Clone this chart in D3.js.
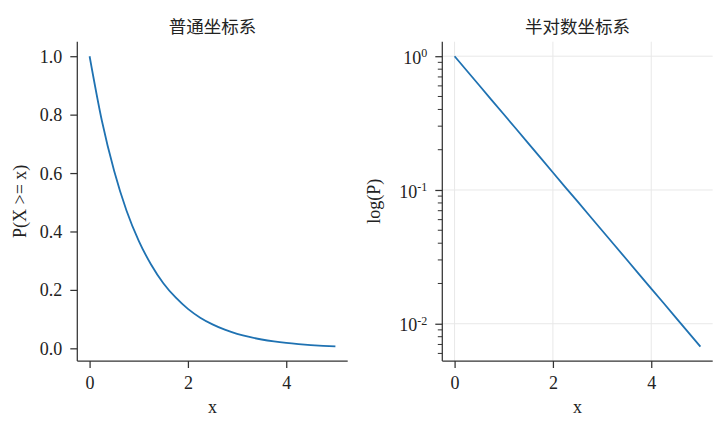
<!DOCTYPE html>
<html>
<head>
<meta charset="utf-8">
<script src="https://cdn.jsdelivr.net/npm/d3@7"></script>
<style>
  html, body { margin: 0; padding: 0; background: #fff; }
  svg { display: block; }
  .tick text { font-family: "Liberation Serif", "Times New Roman", serif; font-size: 18px; fill: #222; }
</style>
</head>
<body>
<svg id="chart" width="720" height="425"></svg>
<script>
// ---- data ----
const xValues = [0, 0.25, 0.5, 0.75, 1, 1.25, 1.5, 1.75, 2, 2.25, 2.5, 2.75, 3, 3.25, 3.5, 3.75, 4, 4.25, 4.5, 4.75, 5];
const pValues = [1.000, 0.779, 0.607, 0.472, 0.368, 0.287, 0.223, 0.174, 0.135, 0.105, 0.0821, 0.0639, 0.0498, 0.0388, 0.0302, 0.0235, 0.0183, 0.0143, 0.0111, 0.00865, 0.00674];
const xTicks = [0, 2, 4];
const linearYTicks = [0.0, 0.2, 0.4, 0.6, 0.8, 1.0];
const logYTicks = [1, 0.1, 0.01];
const logYExponents = ["0", "-1", "-2"];
const logMinorTicks = [0.9, 0.8, 0.7, 0.6, 0.5, 0.4, 0.3, 0.2, 0.09, 0.08, 0.07, 0.06, 0.05, 0.04, 0.03, 0.02, 0.009, 0.008, 0.007, 0.006];
const titles = ["普通坐标系", "半对数坐标系"];
const yLabels = ["P(X >= x)", "log(P)"];
const xLabel = "x";

(function () {
const data = xValues.map((x, i) => ({ x, p: pValues[i] }));

const svg = d3.select("#chart");
const serif = '"Liberation Serif", "Times New Roman", serif';
const cjk = '"Noto Sans CJK SC", "Noto Sans", sans-serif';
const spineColor = "#333";
const lineColor = "#1f72b2";

const panels = [
  { left: 77.3, right: 347.7, type: "linear" },
  { left: 442.3, right: 712.7, type: "log" }
];
const axTop = 41.7, axBottom = 361;

panels.forEach((pn, idx) => {
  const x = d3.scaleLinear().domain([-0.25, 5.25]).range([pn.left, pn.right]);
  let y;
  if (pn.type === "linear") {
    y = d3.scaleLinear().domain([-0.0434, 1.0497]).range([axBottom, axTop]);
  } else {
    y = d3.scaleLog().domain([Math.pow(10, -2.2785), Math.pow(10, 0.1085)]).range([axBottom, axTop]);
  }
  const g = svg.append("g");

  // grid for log panel
  if (pn.type === "log") {
    g.append("g").selectAll("line").data(xTicks).join("line")
      .attr("x1", d => x(d)).attr("x2", d => x(d))
      .attr("y1", axTop).attr("y2", axBottom)
      .attr("stroke", "#e8e8e8").attr("stroke-width", 1);
    g.append("g").selectAll("line").data(logYTicks).join("line")
      .attr("x1", pn.left).attr("x2", pn.right)
      .attr("y1", d => y(d)).attr("y2", d => y(d))
      .attr("stroke", "#e8e8e8").attr("stroke-width", 1);
  }

  // x axis
  const xAxis = g.append("g").attr("transform", `translate(0,${axBottom})`)
    .call(d3.axisBottom(x).tickValues(xTicks).tickFormat(d3.format("d")).tickSize(7).tickPadding(5));
  xAxis.select(".domain").remove();
  xAxis.selectAll(".tick line").attr("stroke", spineColor).attr("stroke-width", 1.25);
  xAxis.selectAll(".tick text").attr("dy", null).attr("y", 28);

  // y axis
  if (pn.type === "linear") {
    const yAxis = g.append("g").attr("transform", `translate(${pn.left},0)`)
      .call(d3.axisLeft(y).tickValues(linearYTicks).tickFormat(d3.format(".1f")).tickSize(7).tickPadding(8));
    yAxis.select(".domain").remove();
    yAxis.selectAll(".tick line").attr("stroke", spineColor).attr("stroke-width", 1.25);
    yAxis.selectAll(".tick text").attr("dy", "0.33em");
  } else {
    const yAxis = g.append("g").attr("transform", `translate(${pn.left},0)`)
      .call(d3.axisLeft(y).tickValues(logYTicks).tickFormat(() => "").tickSize(7).tickPadding(8));
    yAxis.select(".domain").remove();
    yAxis.selectAll(".tick line").attr("stroke", spineColor).attr("stroke-width", 1.25);
    yAxis.selectAll(".tick text").each(function(d, i) {
      const t = d3.select(this).attr("dy", "0.4em").text(null);
      t.append("tspan").text("10");
      t.append("tspan").attr("font-size", "12px").attr("dy", "-0.55em").text(logYExponents[i]);
    });
    // minor ticks
    g.append("g").selectAll("line").data(logMinorTicks.filter(v => y(v) >= axTop && y(v) <= axBottom)).join("line")
      .attr("x1", pn.left - 4.5).attr("x2", pn.left)
      .attr("y1", d => y(d)).attr("y2", d => y(d))
      .attr("stroke", spineColor).attr("stroke-width", 1);
  }

  // spines
  g.append("line").attr("x1", pn.left).attr("x2", pn.left).attr("y1", axTop).attr("y2", axBottom)
    .attr("stroke", spineColor).attr("stroke-width", 1.25);
  g.append("line").attr("x1", pn.left).attr("x2", pn.right).attr("y1", axBottom).attr("y2", axBottom)
    .attr("stroke", spineColor).attr("stroke-width", 1.25);

  // curve
  const line = d3.line().x(d => x(d.x)).y(d => y(d.p))
    .curve(pn.type === "linear" ? d3.curveMonotoneX : d3.curveLinear);
  g.append("path").datum(data).attr("d", line)
    .attr("fill", "none").attr("stroke", lineColor).attr("stroke-width", 1.8);

  // title
  const cx = (pn.left + pn.right) / 2;
  g.append("text").attr("x", cx).attr("y", 33).attr("text-anchor", "middle")
    .attr("font-family", cjk).attr("font-size", "17.5px").attr("fill", "#222")
    .text(titles[idx]);

  // x label
  g.append("text").attr("x", cx).attr("y", 413).attr("text-anchor", "middle")
    .attr("font-family", serif).attr("font-size", "18px").attr("fill", "#222")
    .text(xLabel);

  // y label
  const ly = (axTop + axBottom) / 2;
  const lx = idx === 0 ? 26 : 380;
  g.append("text").attr("transform", `translate(${lx},${ly}) rotate(-90)`)
    .attr("text-anchor", "middle")
    .attr("font-family", serif).attr("font-size", "18px").attr("fill", "#222")
    .text(yLabels[idx]);
});
})();
</script>
</body>
</html>
